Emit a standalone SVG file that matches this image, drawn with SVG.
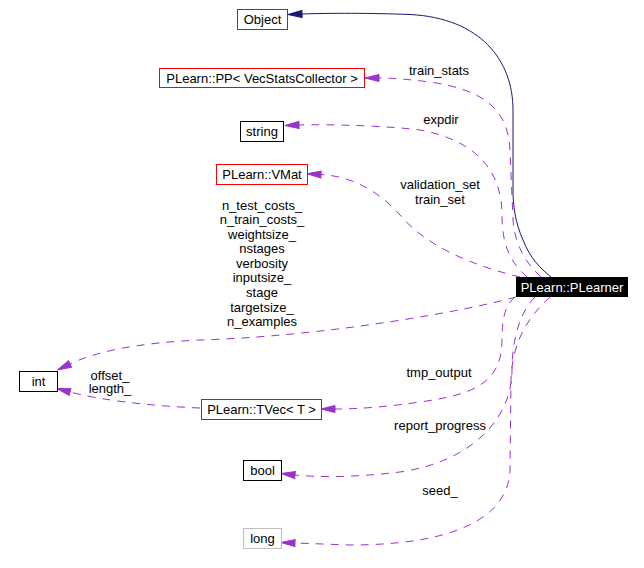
<svg xmlns="http://www.w3.org/2000/svg" width="644" height="568" viewBox="0 0 644 568">
<style>
text{font-family:"Liberation Sans",Arial,sans-serif;font-size:13px;fill:#000;text-anchor:middle}
.n{fill:#fff;stroke-width:1}
.red{stroke:#ff0000}
.blk{stroke:#000}
.gry{stroke:#bfbfbf}
.e{fill:none;stroke:#9a32cd;stroke-width:1;stroke-dasharray:8,7}
.s{fill:none;stroke:#191970;stroke-width:1}
</style>
<defs>
<marker id="ap" markerUnits="userSpaceOnUse" markerWidth="16" markerHeight="10" refX="1" refY="5" orient="auto">
<path d="M1,1.5 L15,5 L1,8.5 z" fill="#9a32cd" stroke="#9a32cd"/>
</marker>
<marker id="an" markerUnits="userSpaceOnUse" markerWidth="16" markerHeight="10" refX="1" refY="5" orient="auto">
<path d="M1,1.5 L15,5 L1,8.5 z" fill="#191970" stroke="#191970"/>
</marker>
</defs>
<g id="edges">
<path class="s" d="M551,277 C540,268 530,258 523,240 C515,222 513,205 513,190 L513,110 C513,60 480,18 410,14.5 C370,13 330,13 302,14" marker-end="url(#an)"/>
<path class="e" d="M541,277 C525,262 515,245 513,220 L510,150 C508,110 485,90 430,82 C405,79 392,78 379,78" marker-end="url(#ap)"/>
<path class="e" d="M527,277 C510,262 502,245 502,215 C502,170 475,140 420,130 C390,126 330,124 299,125" marker-end="url(#ap)"/>
<path class="e" d="M520,277 C470,265 425,245 400,215 C378,190 350,176 321,174.5" marker-end="url(#ap)"/>
<path class="e" d="M516,297 C470,310 330,336 200,340 C135,343 95,352 70,364" marker-end="url(#ap)"/>
<path class="e" d="M515,297 C506,305 502,315 502,340 C502,385 470,395 420,402 C380,408 350,409 335,409" marker-end="url(#ap)"/>
<path class="e" d="M535,297 C522,310 512,335 512,370 C512,420 470,462 400,472 C350,478 315,477 295,475" marker-end="url(#ap)"/>
<path class="e" d="M550,297 C530,315 512,340 511,380 L510,470 C508,520 450,545 350,545 L295,543" marker-end="url(#ap)"/>
<path class="e" d="M200,408 C150,406 100,400 70,392" marker-end="url(#ap)"/>
</g>
<g id="labels">
<text x="439" y="75">train_stats</text>
<text x="441" y="124">expdir</text>
<text x="440" y="189">validation_set</text>
<text x="440" y="204">train_set</text>
<text x="262" y="209.5">n_test_costs_</text>
<text x="262" y="224">n_train_costs_</text>
<text x="262" y="238.5">weightsize_</text>
<text x="262" y="253">nstages</text>
<text x="262" y="267.5">verbosity</text>
<text x="262" y="282">inputsize_</text>
<text x="262" y="296.5">stage</text>
<text x="262" y="311.5">targetsize_</text>
<text x="262" y="326">n_examples</text>
<text x="110" y="379.5">offset_</text>
<text x="110" y="393">length_</text>
<text x="439" y="377">tmp_output</text>
<text x="440" y="429.5">report_progress</text>
<text x="440" y="495">seed_</text>
</g>
<g id="Object"><rect class="n red" x="237.5" y="9.5" width="50" height="20"/><text x="262.5" y="24">Object</text></g>
<g id="PP"><rect class="n red" x="159.5" y="68.5" width="205" height="19"/><text x="262" y="82.5">PLearn::PP&lt; VecStatsCollector &gt;</text></g>
<g id="string"><rect class="n blk" x="240.5" y="121.5" width="43" height="20"/><text x="262" y="136">string</text></g>
<g id="VMat"><rect class="n red" x="216.5" y="164.5" width="91" height="20"/><text x="262" y="179">PLearn::VMat</text></g>
<g id="PLearner"><rect x="516" y="277" width="112" height="20" fill="#000"/><text x="572" y="291.5" style="fill:#fff">PLearn::PLearner</text></g>
<g id="int"><rect class="n blk" x="19.5" y="371.5" width="38" height="20"/><text x="38.5" y="386">int</text></g>
<g id="TVec"><rect class="n red" x="201.5" y="399.5" width="120" height="20"/><text x="261.5" y="414">PLearn::TVec&lt; T &gt;</text></g>
<g id="bool"><rect class="n blk" x="243.5" y="460.5" width="38" height="20"/><text x="262.5" y="475">bool</text></g>
<g id="long"><rect class="n gry" x="243.5" y="528.5" width="38" height="20"/><text x="262.5" y="543">long</text></g>
</svg>
